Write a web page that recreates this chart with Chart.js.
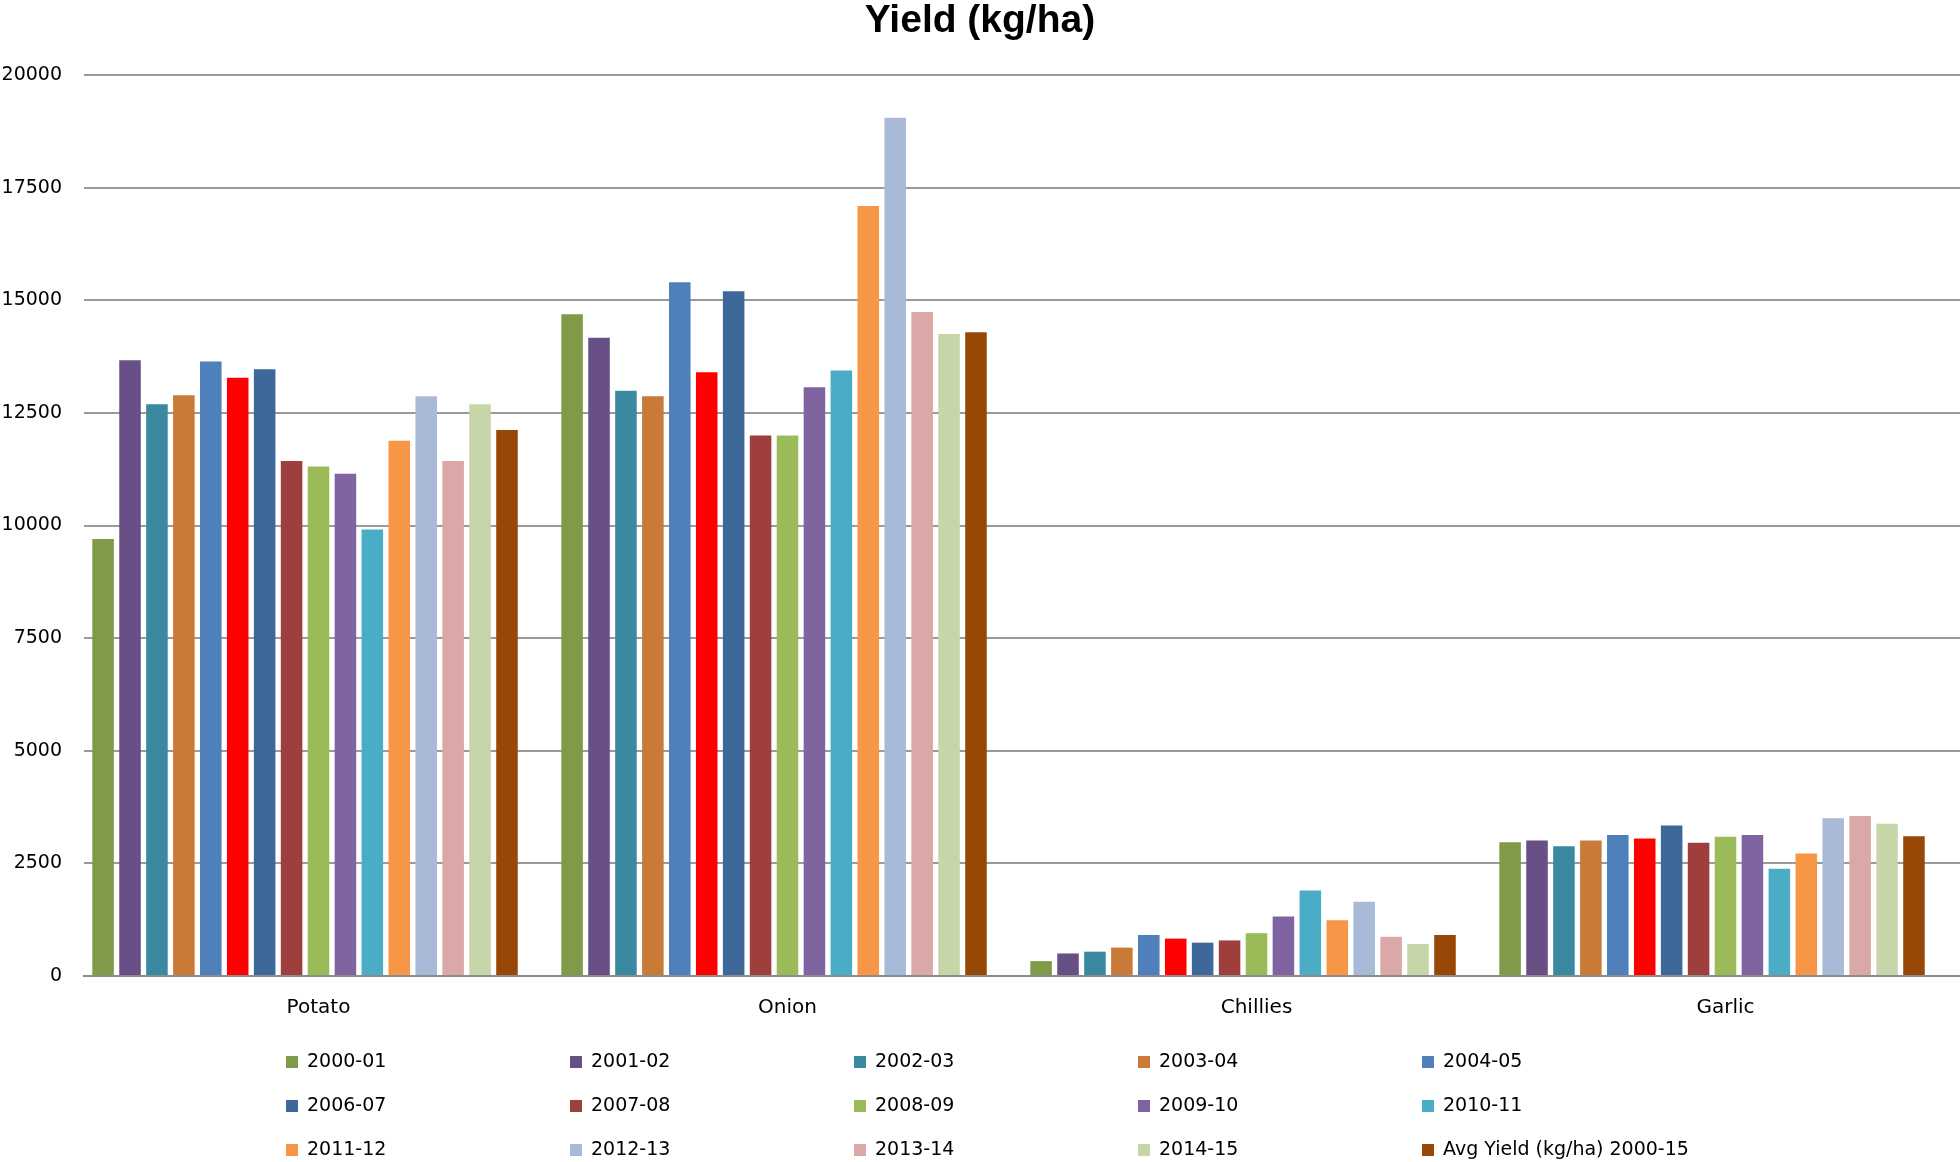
<!DOCTYPE html>
<html lang="en">
<head>
    <meta charset="UTF-8">
    <title>Yield (kg/ha)</title>
    <script src="https://cdn.jsdelivr.net/npm/chart.js"></script>
    <style>
        body {
            margin: 0;
            background: #ffffff;
        }
        #yieldChart {
            display: block;
        }
    </style>
</head>
<body>
    <canvas id="yieldChart" width="1960" height="1162"></canvas>
    <script>
        const categories = ['Potato', 'Onion', 'Chillies', 'Garlic'];

        const seasons = ['2000-01', '2001-02', '2002-03', '2003-04', '2004-05', '2005-06', '2006-07', '2007-08',
            '2008-09', '2009-10', '2010-11', '2011-12', '2012-13', '2013-14', '2014-15', 'Avg Yield (kg/ha) 2000-15'];

        const seasonColors = ['#7f9a48', '#684f85', '#3a89a0', '#c97a37', '#4f80bc', '#ff0000', '#3e6899', '#9e3f3e',
            '#9bbb59', '#8064a2', '#4bacc6', '#f79646', '#a9bad8', '#daa8a7', '#c6d6a8', '#974706'];

        // values per season, same order as seasons
        const potato = [9700, 13670, 12690, 12890, 13640, 13280, 13470, 11430, 11310, 11150, 9910, 11880, 12870, 11430, 12690, 12120];
        const onion = [14690, 14170, 12990, 12870, 15400, 13400, 15200, 12000, 12000, 13070, 13440, 17090, 19050, 14740, 14250, 14290];
        const chillies = [330, 500, 540, 630, 910, 830, 740, 790, 950, 1320, 1900, 1240, 1650, 870, 710, 910];
        const garlic = [2970, 3010, 2880, 3010, 3130, 3050, 3340, 2960, 3090, 3130, 2380, 2720, 3500, 3550, 3380, 3100];

        // season left out of the legend in the original
        const legendSkip = ['2005-06'];

        const datasets = seasons.map((season, i) => ({
            label: season,
            data: [potato[i], onion[i], chillies[i], garlic[i]],
            backgroundColor: seasonColors[i],
            borderWidth: 0
        }));
        // empty trailing series, keeps the group shifted like the original
        datasets.push({ label: '', data: [], backgroundColor: 'rgba(0,0,0,0)' });

        const gridLegend = {
            id: 'gridLegend',
            afterDraw(chart) {
                const ctx = chart.ctx;
                const items = chart.data.datasets.filter(d => d.label && !legendSkip.includes(d.label));
                ctx.save();
                ctx.font = '19px "DejaVu Sans"';
                ctx.textBaseline = 'middle';
                ctx.textAlign = 'left';
                items.forEach((d, i) => {
                    const x = 286 + (i % 5) * 284;
                    const y = 1062 + Math.floor(i / 5) * 44;
                    ctx.fillStyle = d.backgroundColor;
                    ctx.fillRect(x, y - 6, 12, 12);
                    ctx.fillStyle = '#000000';
                    ctx.fillText(d.label, x + 21, y);
                });
                ctx.restore();
            }
        };

        Chart.defaults.font.family = '"DejaVu Sans", sans-serif';
        Chart.defaults.color = '#000000';

        new Chart(document.getElementById('yieldChart').getContext('2d'), {
            type: 'bar',
            data: {
                labels: categories,
                datasets: datasets
            },
            options: {
                responsive: false,
                animation: false,
                categoryPercentage: 0.976,
                barPercentage: 0.8,
                layout: {
                    padding: { left: 0, right: 0, top: 0, bottom: 146 }
                },
                scales: {
                    x: {
                        grid: { display: false, drawTicks: false },
                        border: { display: true, color: '#8c8c8c', width: 2 },
                        ticks: { font: { size: 20 }, padding: 20, color: '#000000' },
                        afterFit: (scale) => { scale.height = 40; }
                    },
                    y: {
                        min: 0,
                        max: 20000,
                        ticks: {
                            stepSize: 2500,
                            font: { size: 19 },
                            padding: 22,
                            color: '#000000',
                            callback: (value) => String(value)
                        },
                        grid: { color: '#9a9a9a', lineWidth: 2, drawTicks: false },
                        border: { display: false },
                        afterFit: (scale) => { scale.width = 84; }
                    }
                },
                plugins: {
                    legend: { display: false },
                    tooltip: { enabled: false },
                    title: {
                        display: true,
                        text: 'Yield (kg/ha)',
                        color: '#000000',
                        font: { family: '"Liberation Sans", sans-serif', size: 39, weight: 'bold', lineHeight: 1 },
                        padding: { top: 2, bottom: 34 }
                    }
                }
            },
            plugins: [gridLegend]
        });
    </script>
</body>
</html>
